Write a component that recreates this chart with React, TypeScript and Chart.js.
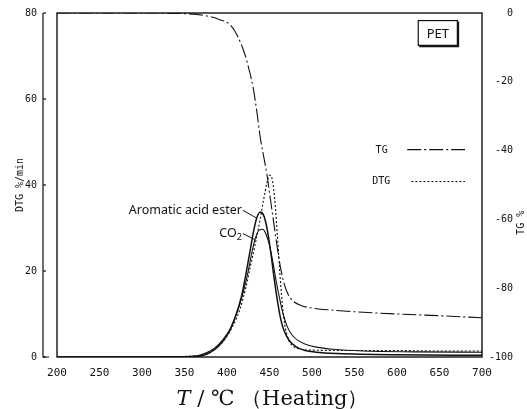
import React, { useEffect, useRef } from 'react';
import { Chart, registerables } from 'chart.js';

Chart.register(...registerables);

// ---- tick labels ----
const xTickValues = [200, 250, 300, 350, 400, 450, 500, 550, 600, 650, 700];
const dtgTickValues = [0, 20, 40, 60, 80];
const tgTickValues = [0, -20, -40, -60, -80, -100];

// ---- TG (%), right axis ----
const tgTemps = [200, 300, 350, 375, 390, 404, 412, 421, 426, 431, 435, 439, 443, 447, 451, 455, 459, 463, 467, 472, 478, 487, 500, 525, 560, 600, 650, 700];
const tgValues = [0, 0, -0.2, -0.8, -1.8, -3.5, -6.5, -12, -16.5, -22, -28.5, -36, -41.5, -47, -54, -61, -68, -74, -78.5, -81.8, -83.8, -85, -85.8, -86.4, -87, -87.5, -88, -88.6];

// ---- DTG (%/min), left axis ----
const dtgTemps = [200, 300, 360, 375, 385, 395, 405, 415, 422, 428, 434, 439, 443, 447, 450, 453, 456, 459, 462, 465, 468, 472, 477, 485, 500, 550, 600, 650, 700];
const dtgValues = [0, 0, 0.2, 0.7, 1.8, 3.5, 6.5, 11, 16, 21.5, 27, 32, 36.5, 40.5, 42.3, 41.5, 37, 29, 20, 12.5, 7.5, 4.2, 2.6, 1.9, 1.6, 1.5, 1.5, 1.4, 1.4];

// ---- Aromatic acid ester (solid) ----
const esterTemps = [200, 300, 360, 370, 380, 390, 400, 410, 417, 422, 427, 431, 435, 439, 443, 447, 451, 455, 459, 463, 467, 473, 481, 492, 505, 530, 600, 700];
const esterValues = [0, 0, 0.1, 0.3, 1, 2.5, 5, 9.5, 14, 19, 24.5, 29, 32.3, 33.7, 33, 30, 25, 19, 13.5, 9, 6.2, 3.9, 2.4, 1.5, 1.1, 0.8, 0.5, 0.4];

// ---- CO2 (solid) ----
const co2Temps = [200, 300, 355, 365, 375, 385, 395, 405, 412, 419, 425, 430, 434, 438, 442, 446, 450, 454, 458, 462, 466, 471, 477, 484, 493, 505, 525, 560, 620, 700];
const co2Values = [0, 0, 0.1, 0.3, 0.9, 2, 4, 7, 10.5, 15, 20, 25, 28, 29.5, 29.7, 28.5, 26, 22, 17.5, 13.5, 10, 7, 5, 3.8, 2.9, 2.3, 1.8, 1.4, 1.2, 1.1];

const zip = (xs: number[], ys: number[]) => xs.map((x, i) => ({ x, y: ys[i] }));

const INK = '#111111';
const MONO = '"DejaVu Sans Mono", monospace';
const SERIF = '"DejaVu Serif", "Liberation Serif", serif';

const decorPlugin = {
  id: 'petDecor',
  afterDraw(chart: any) {
    const { ctx, chartArea: ca, scales } = chart;
    const x = scales.x;
    const yL = scales.yL;
    const yR = scales.yR;
    ctx.save();
    ctx.strokeStyle = INK;
    ctx.fillStyle = INK;

    // plot frame
    ctx.lineWidth = 1.4;
    ctx.strokeRect(ca.left, ca.top, ca.right - ca.left, ca.bottom - ca.top);

    // offset DTG axis line with small ticks
    const ax = ca.left - 14;
    ctx.lineWidth = 1.2;
    ctx.beginPath();
    ctx.moveTo(ax, yL.getPixelForValue(80));
    ctx.lineTo(ax, yL.getPixelForValue(0));
    ctx.lineTo(ax + 6, yL.getPixelForValue(0));
    ctx.stroke();
    dtgTickValues.forEach((v) => {
      const py = yL.getPixelForValue(v);
      ctx.beginPath();
      ctx.moveTo(ax, py);
      ctx.lineTo(ax + 3, py);
      ctx.stroke();
    });

    // x axis title: italic T + rest
    const tY = ca.bottom + 43;
    const partA = 'T';
    const partB = ' / ℃ （Heating）';
    ctx.textBaseline = 'middle';
    ctx.textAlign = 'left';
    ctx.font = `italic 21px ${SERIF}`;
    const wA = ctx.measureText(partA).width;
    ctx.font = `21px ${SERIF}`;
    const wB = ctx.measureText(partB).width;
    const tx0 = (ca.left + ca.right) / 2 + 3 - (wA + wB) / 2;
    ctx.font = `italic 21px ${SERIF}`;
    ctx.fillText(partA, tx0, tY);
    ctx.font = `21px ${SERIF}`;
    ctx.fillText(partB, tx0 + wA, tY);

    // right axis title (reads bottom to top)
    ctx.save();
    ctx.translate(ca.right + 39, yR.getPixelForValue(-61));
    ctx.rotate(-Math.PI / 2);
    ctx.font = `10px ${MONO}`;
    ctx.textAlign = 'center';
    ctx.textBaseline = 'middle';
    ctx.fillText('TG %', 0, 0);
    ctx.restore();

    // legend
    ctx.font = `10px ${MONO}`;
    ctx.textAlign = 'right';
    ctx.textBaseline = 'middle';
    const tgY = yR.getPixelForValue(-40);
    ctx.fillText('TG', x.getPixelForValue(589), tgY);
    ctx.lineWidth = 1.1;
    ctx.setLineDash([14, 3, 2, 3]);
    ctx.beginPath();
    ctx.moveTo(x.getPixelForValue(612), tgY - 1);
    ctx.lineTo(x.getPixelForValue(680), tgY - 1);
    ctx.stroke();
    const dtgY = yR.getPixelForValue(-49);
    ctx.fillText('DTG', x.getPixelForValue(592), dtgY);
    ctx.setLineDash([2, 2]);
    ctx.beginPath();
    ctx.moveTo(x.getPixelForValue(617), dtgY);
    ctx.lineTo(x.getPixelForValue(680), dtgY);
    ctx.stroke();
    ctx.setLineDash([]);

    // PET box
    const bx0 = x.getPixelForValue(625);
    const bx1 = x.getPixelForValue(671);
    const by0 = yR.getPixelForValue(-2.2);
    const by1 = yR.getPixelForValue(-9.4);
    ctx.lineWidth = 1.2;
    ctx.strokeRect(bx0, by0, bx1 - bx0, by1 - by0);
    ctx.lineWidth = 1.6;
    ctx.beginPath();
    ctx.moveTo(bx1 + 1, by0 + 1);
    ctx.lineTo(bx1 + 1, by1 + 1);
    ctx.lineTo(bx0 + 1, by1 + 1);
    ctx.stroke();
    ctx.font = '13px "Noto Sans", sans-serif';
    ctx.textAlign = 'center';
    ctx.fillText('PET', (bx0 + bx1) / 2, (by0 + by1) / 2 + 1);

    // annotations
    ctx.font = '12.5px "Noto Sans", sans-serif';
    ctx.textAlign = 'right';
    ctx.textBaseline = 'middle';
    const aX = x.getPixelForValue(417.5);
    const aY = yL.getPixelForValue(34.1);
    ctx.fillText('Aromatic acid ester', aX, aY);
    ctx.lineWidth = 1;
    ctx.beginPath();
    ctx.moveTo(aX + 1, aY);
    ctx.lineTo(x.getPixelForValue(435), yL.getPixelForValue(32.3));
    ctx.stroke();

    const cX = x.getPixelForValue(417.5);
    const cY = yL.getPixelForValue(28.7);
    ctx.font = '9px "Noto Sans", sans-serif';
    const subW = ctx.measureText('2').width;
    ctx.fillText('2', cX, cY + 4);
    ctx.font = '12.5px "Noto Sans", sans-serif';
    ctx.fillText('CO', cX - subW, cY);
    ctx.beginPath();
    ctx.moveTo(cX + 1, cY);
    ctx.lineTo(x.getPixelForValue(433), yL.getPixelForValue(27.3));
    ctx.stroke();

    ctx.restore();
  },
};

export default function App() {
  const ref = useRef<HTMLCanvasElement>(null);

  useEffect(() => {
    const chart = new Chart(ref.current as HTMLCanvasElement, {
      type: 'line',
      data: {
        datasets: [
          {
            label: 'TG',
            data: zip(tgTemps, tgValues),
            yAxisID: 'yR',
            borderColor: INK,
            borderWidth: 1.1,
            borderDash: [14, 3, 2, 3],
            pointRadius: 0,
            cubicInterpolationMode: 'monotone',
          },
          {
            label: 'DTG',
            data: zip(dtgTemps, dtgValues),
            yAxisID: 'yL',
            borderColor: INK,
            borderWidth: 1.1,
            borderDash: [2, 2],
            pointRadius: 0,
            cubicInterpolationMode: 'monotone',
          },
          {
            label: 'Aromatic acid ester',
            data: zip(esterTemps, esterValues),
            yAxisID: 'yL',
            borderColor: INK,
            borderWidth: 1.5,
            pointRadius: 0,
            cubicInterpolationMode: 'monotone',
          },
          {
            label: 'CO2',
            data: zip(co2Temps, co2Values),
            yAxisID: 'yL',
            borderColor: INK,
            borderWidth: 1.1,
            pointRadius: 0,
            cubicInterpolationMode: 'monotone',
          },
        ],
      },
      options: {
        animation: false,
        responsive: false,
        devicePixelRatio: 1,
        layout: { padding: { top: 13, right: 14, left: 0, bottom: 0 } },
        plugins: { legend: { display: false }, tooltip: { enabled: false } },
        scales: {
          x: {
            type: 'linear',
            min: 200,
            max: 700,
            afterBuildTicks: (s: any) => {
              s.ticks = xTickValues.map((v) => ({ value: v }));
            },
            afterFit: (s: any) => {
              s.height = 52;
            },
            grid: { display: false, drawTicks: false },
            border: { display: false },
            ticks: {
              padding: 10,
              color: INK,
              font: { family: MONO, size: 11 },
              maxRotation: 0,
              callback: (v: any) => String(v),
            },
            title: { display: false, text: 'T / ℃ （Heating）' },
          },
          yL: {
            type: 'linear',
            position: 'left',
            min: 0,
            max: 80,
            afterBuildTicks: (s: any) => {
              s.ticks = dtgTickValues.map((v) => ({ value: v }));
            },
            afterFit: (s: any) => {
              s.width = 57;
            },
            grid: { display: false, drawTicks: true, tickLength: 16 },
            border: { display: false },
            ticks: {
              padding: 4,
              color: INK,
              font: { family: MONO, size: 10 },
              callback: (v: any) => String(v),
            },
            title: {
              display: true,
              text: 'DTG %/min',
              color: INK,
              font: { family: MONO, size: 10 },
              padding: { top: 14, bottom: 0 },
            },
          },
          yR: {
            type: 'linear',
            position: 'right',
            min: -100,
            max: 0,
            afterBuildTicks: (s: any) => {
              s.ticks = tgTickValues.map((v) => ({ value: v }));
            },
            afterFit: (s: any) => {
              s.width = 31;
            },
            grid: { display: false, drawTicks: false },
            border: { display: false },
            ticks: {
              crossAlign: 'far',
              padding: 4,
              color: INK,
              font: { family: MONO, size: 10 },
              callback: (v: any) => String(v),
            },
          },
        },
      },
      plugins: [decorPlugin],
    } as any);
    return () => chart.destroy();
  }, []);

  return (
    <div style={{ position: 'fixed', left: 0, top: 0, width: 527, height: 409, background: '#fff' }}>
      <canvas ref={ref} width={527} height={409} style={{ display: 'block', width: 527, height: 409 }} />
    </div>
  );
}
